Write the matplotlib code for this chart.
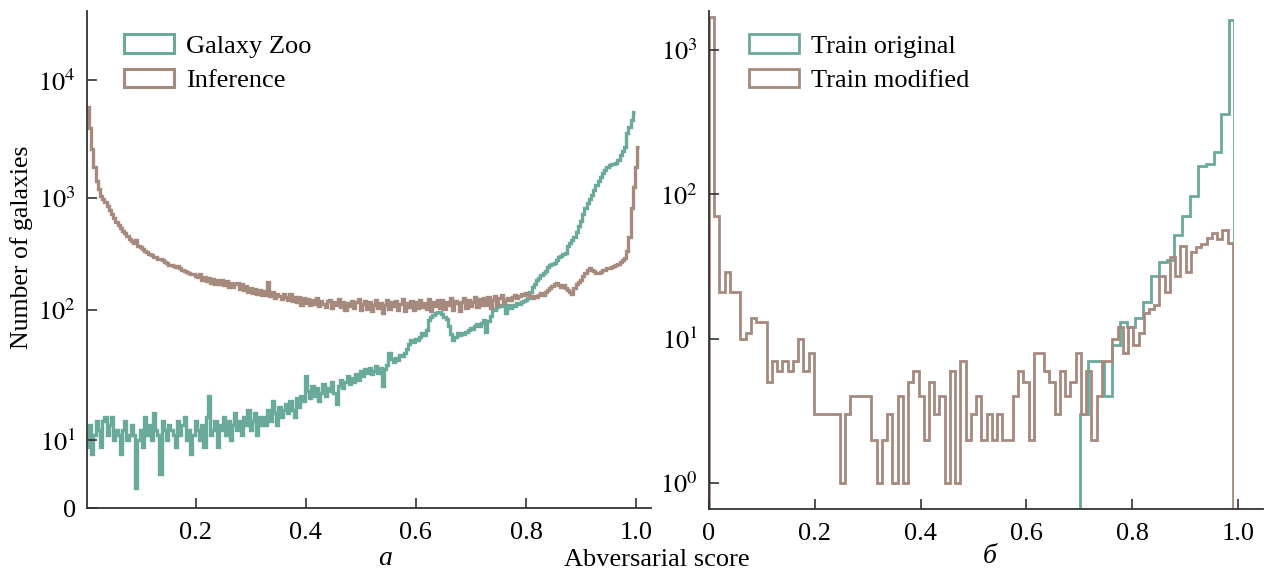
import numpy as np
import matplotlib
matplotlib.use('Agg')
import matplotlib.pyplot as plt
from matplotlib.patches import Patch, Rectangle
from matplotlib.ticker import NullLocator

plt.rcParams['font.family'] = 'serif'
plt.rcParams['font.serif'] = ['Liberation Serif', 'DejaVu Serif']
plt.rcParams['mathtext.fontset'] = 'stix'

GREEN = '#6aaa9b'
BROWN = '#a68a7e'
SPINE = '#333333'

# ---- panel (a): 0.004 wide bins starting at 0.002
a_bin_start = 0.002
a_bin_width = 0.004

galaxy_zoo = [
    9, 13, 8, 11, 14, 12, 9, 14, 15, 11,
    13, 15, 10, 12, 11, 8, 12, 14, 10, 11,
    13, 11, 3, 10, 12, 9, 15, 11, 13, 10,
    16, 12, 11, 5, 14, 12, 10, 13, 12, 11,
    9, 14, 11, 13, 15, 10, 12, 8, 11, 14,
    12, 10, 13, 9, 15, 22, 11, 12, 14, 9,
    13, 12, 15, 11, 14, 10, 13, 16, 12, 14,
    11, 15, 13, 17, 12, 14, 16, 11, 15, 13,
    15, 13, 17, 14, 20, 16, 13, 18, 15, 17,
    19, 16, 20, 17, 15, 21, 18, 22, 20, 31,
    24, 21, 26, 22, 25, 20, 23, 27, 22, 25,
    24, 28, 23, 19, 26, 29, 25, 28, 31, 27,
    30, 28, 32, 29, 34, 31, 35, 33, 36, 32,
    34, 37, 33, 36, 26, 35, 38, 47, 42, 40,
    43, 41, 45, 44, 47, 50, 55, 59, 57, 60,
    59, 62, 66, 64, 70, 84, 88, 92, 95, 97,
    96, 93, 89, 86, 75, 65, 59, 62, 66, 64,
    66, 65, 68, 70, 73, 71, 75, 78, 76, 80,
    84, 68, 82, 90, 103, 100, 106, 111, 108, 112,
    95, 110, 105, 112, 108, 115, 113, 118, 120, 123,
    128, 145, 160, 172, 185, 195, 205, 212, 225, 240,
    250, 258, 265, 280, 295, 305, 318, 325, 370, 400,
    420, 450, 500, 560, 630, 720, 810, 900, 980, 1070,
    1170, 1280, 1400, 1510, 1620, 1730, 1840, 1890, 1930, 1960,
    2000, 2100, 2300, 2500, 2730, 3540, 4000, 4580, 5400,
]

inference = [
    5900, 3900, 2600, 1850, 1400, 1200, 1050, 990, 920, 850,
    780, 720, 660, 610, 570, 535, 505, 490, 460, 430,
    415, 400, 420, 375, 362, 350, 338, 332, 318, 312,
    300, 296, 288, 285, 280, 270, 262, 255, 252, 245,
    244, 246, 236, 228, 222, 220, 213, 208, 210, 200,
    196, 210, 186, 198, 180, 194, 176, 190, 172, 186,
    170, 184, 166, 180, 162, 176, 160, 171, 175, 155,
    172, 150, 164, 146, 158, 141, 155, 138, 152, 136,
    149, 135, 179, 133, 146, 128, 140, 134, 125, 138,
    130, 122, 138, 120, 132, 118, 130, 112, 128, 116,
    126, 110, 122, 114, 128, 108, 120, 113, 106, 121,
    124, 105, 118, 110, 126, 107, 119, 100, 116, 109,
    121, 104, 117, 126, 101, 114, 120, 103, 118, 99,
    112, 122, 104, 116, 95, 111, 124, 102, 117, 108,
    120, 101, 113, 125, 98, 115, 106, 121, 100, 118,
    104, 122, 107, 116, 102, 126, 99, 117, 109, 123,
    105, 124, 103, 119, 112, 128, 101, 121, 115, 98,
    117, 129, 104, 122, 108, 119, 130, 106, 125, 112,
    127, 110, 131, 104, 124, 133, 112, 128, 137, 116,
    122, 128, 124, 131, 136, 129, 134, 140, 137, 141,
    138, 133, 128, 134, 131, 137, 142, 136, 146, 152,
    158, 165, 170, 173, 166, 160, 168, 158, 150, 145,
    140, 158, 170, 179, 185, 200, 212, 228, 236, 230,
    222, 215, 212, 220, 230, 226, 238, 236, 242, 248,
    252, 256, 268, 280, 290, 340, 450, 810, 1250, 1840, 2730,
]

# ---- panel (б)
train_modified_range = (0.0, 0.99)
train_modified = [
    1700, 71, 21, 29, 21, 21, 10, 11, 14, 13,
    13, 5, 7, 6, 7, 6, 7, 10, 6, 8,
    3, 3, 3, 3, 3, 1, 3, 4, 4, 4,
    4, 2, 1, 2, 3, 1, 4, 1, 5, 6,
    4, 2, 5, 3, 4, 1, 6, 1, 7, 2,
    3, 4, 2, 3, 2, 3, 2, 2, 4, 6,
    5, 2, 8, 8, 6, 5, 3, 6, 4, 5,
    8, 3, 6, 2, 4, 7, 7, 10, 12, 8,
    12, 9, 11, 15, 16, 17, 27, 21, 37, 27,
    44, 29, 40, 43, 45, 50, 54, 49, 57, 46,
]

train_original_start = 0.702
train_original_width = 0.0148
train_original_end = 0.9915
train_original = [3, 7, 7, 4, 9, 13, 12, 14, 18, 27,
                  34, 35, 52, 71, 98, 156, 163, 196, 359, 1600]

# y scale of panel (a): linear below 10, log above (calibrated decades)
LOG_KNOTS = [1, 2, 3, 4, 5]
POS_KNOTS = [68, 198, 310, 428, 546]
LIN_SLOPE = 6.8


def fwd(v):
    v = np.asarray(v, dtype=float)
    lg = np.log10(np.clip(v, 10, None))
    return np.where(v < 10, v * LIN_SLOPE, np.interp(lg, LOG_KNOTS, POS_KNOTS))


def inv(p):
    p = np.asarray(p, dtype=float)
    return np.where(p < 68, p / LIN_SLOPE, 10 ** np.interp(p, POS_KNOTS, LOG_KNOTS))


FS = 19
B_YMIN, B_YMAX = 0.66, 1860

fig = plt.figure(figsize=(12.64, 5.69), dpi=100)
ax1 = fig.add_axes([0.0688, 0.1072, 0.4462, 0.8735])
ax2 = fig.add_axes([0.5609, 0.1054, 0.4383, 0.8752])

# panel (a)
gz_edges = a_bin_start + a_bin_width * np.arange(len(galaxy_zoo) + 1)
inf_edges = a_bin_start + a_bin_width * np.arange(len(inference) + 1)
ax1.stairs(galaxy_zoo, gz_edges, baseline=None, color=GREEN, lw=2.4)
ax1.stairs(inference, inf_edges, baseline=None, color=BROWN, lw=2.4)
ax1.set_yscale('function', functions=(fwd, inv))
ax1.set_ylim(0, 38500)
ax1.set_xlim(0.0024, 1.027)
ax1.set_yticks([0, 10, 100, 1000, 10000])
ax1.set_yticklabels(['0', '$10^{1}$', '$10^{2}$', '$10^{3}$', '$10^{4}$'])
ax1.set_xticks([0.2, 0.4, 0.6, 0.8, 1.0])
ax1.set_xticklabels(['0.2', '0.4', '0.6', '0.8', '1.0'])
ax1.yaxis.set_minor_locator(NullLocator())
ax1.legend(handles=[Patch(facecolor='none', edgecolor=GREEN, lw=2.2, label='Galaxy Zoo'),
                    Patch(facecolor='none', edgecolor=BROWN, lw=2.2, label='Inference')],
           loc='upper left', bbox_to_anchor=(0.066, 0.953), frameon=False, fontsize=FS,
           handlelength=1.9, handleheight=0.7, handletextpad=0.45, labelspacing=0.42,
           borderpad=0, borderaxespad=0)

# panel (б): histograms are cut at the last bin edge
tm_edges = np.linspace(train_modified_range[0], train_modified_range[1], len(train_modified) + 1)
to_edges = np.append(train_original_start + train_original_width * np.arange(len(train_original)),
                     train_original_end)
ax2.set_yscale('log')
ax2.set_ylim(B_YMIN, B_YMAX)
ax2.set_xlim(0, 1.047)
clip = Rectangle((0, B_YMIN), train_original_end, B_YMAX - B_YMIN, transform=ax2.transData)
for vals, edges, col in ((train_original, to_edges, GREEN), (train_modified, tm_edges, BROWN)):
    st = ax2.stairs(vals, edges, baseline=0.1, color=col, lw=2.0)
    st.set_clip_path(clip)
ax2.set_ylim(B_YMIN, B_YMAX)
ax2.set_xlim(0, 1.047)
ax2.set_yticks([1, 10, 100, 1000])
ax2.set_yticklabels(['$10^{0}$', '$10^{1}$', '$10^{2}$', '$10^{3}$'])
ax2.yaxis.set_minor_locator(NullLocator())
ax2.set_xticks([0, 0.2, 0.4, 0.6, 0.8, 1.0])
ax2.set_xticklabels(['0', '0.2', '0.4', '0.6', '0.8', '1.0'])
ax2.legend(handles=[Patch(facecolor='none', edgecolor=GREEN, lw=2.0, label='Train original'),
                    Patch(facecolor='none', edgecolor=BROWN, lw=2.0, label='Train modified')],
           loc='upper left', bbox_to_anchor=(0.072, 0.953), frameon=False, fontsize=FS,
           handlelength=1.9, handleheight=0.7, handletextpad=0.45, labelspacing=0.42,
           borderpad=0, borderaxespad=0)

for ax in (ax1, ax2):
    for side in ('top', 'right'):
        ax.spines[side].set_visible(False)
    for side in ('left', 'bottom'):
        ax.spines[side].set_color(SPINE)
        ax.spines[side].set_linewidth(1.3)
    ax.tick_params(direction='in', length=7, width=1.2, color=SPINE,
                   labelsize=FS, pad=8)
    ax.tick_params(axis='x', pad=10)

fig.text(0.0174, 0.566, 'Number of galaxies', rotation=90, ha='center', va='center', fontsize=FS - 0.5)
fig.text(0.305, 0.018, 'a', style='italic', ha='center', va='center', fontsize=FS + 1)
fig.text(0.52, 0.016, 'Abversarial score', ha='center', va='center', fontsize=FS)
fig.text(0.783, 0.022, 'б', style='italic', ha='center', va='center', fontsize=FS + 1)

fig.savefig('out.png', dpi=100)
